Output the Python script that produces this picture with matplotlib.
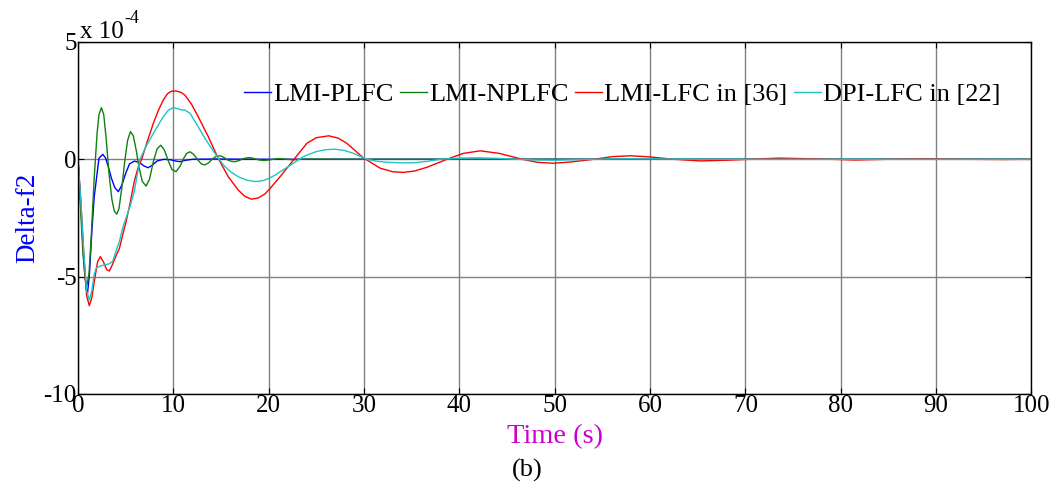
import matplotlib
matplotlib.use("Agg")
import matplotlib.pyplot as plt

plt.rcParams['font.family'] = ['Liberation Serif', 'DejaVu Serif']
plt.rcParams['axes.unicode_minus'] = False

# values in units of 1e-4
t_plfc = [0, 0.3, 0.6, 0.85, 1.0, 1.2, 1.45, 1.7, 1.9, 2.2, 2.6, 2.9, 3.2, 3.5, 3.85,
          4.23, 4.6, 5.0, 5.4, 5.9, 6.4, 6.9, 7.35, 7.8, 8.3, 9.0, 9.7, 10.3, 10.7,
          11.2, 12.0, 14.0, 20.0, 100.0]
v_plfc = [0, -2.0, -4.3, -5.5, -5.7, -4.9, -3.1, -1.6, -0.95, 0.05, 0.21, 0.05, -0.35,
          -0.8, -1.2, -1.38, -1.1, -0.6, -0.2, -0.08, -0.12, -0.28, -0.36, -0.25, -0.07,
          0.0, -0.02, -0.08, -0.1, -0.05, 0.0, 0.01, 0.0, 0.0]

t_nplfc = [0, 0.5, 0.75, 0.94, 1.15, 1.4, 1.7, 2.0, 2.2, 2.45, 2.7, 2.95, 3.25, 3.55,
           3.8, 4.06, 4.3, 4.6, 4.9, 5.2, 5.5, 5.8, 6.1, 6.4, 6.75, 7.14, 7.5, 7.9,
           8.3, 8.68, 9.05, 9.45, 9.85, 10.28, 10.7, 11.1, 11.4, 11.75, 12.15, 12.55,
           12.95, 13.3, 13.7, 14.1, 14.5, 14.9, 15.3, 15.7, 16.1, 16.5, 16.9, 17.3,
           17.7, 18.05, 18.5, 19.0, 19.5, 20.0, 21.0, 22.5, 24.0, 30.0, 100.0]
v_nplfc = [0, -3.9, -5.1, -5.36, -4.9, -3.2, -0.8, 1.1, 1.9, 2.2, 1.9, 0.9, -0.6, -1.7,
           -2.2, -2.34, -2.1, -1.2, -0.1, 0.8, 1.18, 1.0, 0.4, -0.35, -0.95, -1.14,
           -0.85, -0.1, 0.45, 0.6, 0.4, -0.05, -0.43, -0.53, -0.3, 0.05, 0.25, 0.32,
           0.2, -0.02, -0.2, -0.24, -0.15, 0.02, 0.12, 0.15, 0.08, -0.03, -0.09, -0.1,
           -0.05, 0.02, 0.06, 0.07, 0.03, -0.03, -0.05, -0.03, 0.03, -0.02, 0.01, 0.0, 0.0]

t_lfc36 = [0, 0.3, 0.6, 0.9, 1.19, 1.45, 1.71, 2.06, 2.34, 2.7, 3.0, 3.29, 3.6, 4.0,
           4.34, 4.7, 5.04, 5.46, 5.9, 6.3, 6.68, 7.3, 7.9, 8.45, 8.95, 9.4, 9.8,
           10.3, 10.8, 11.2, 11.9, 12.6, 13.67, 14.7, 15.76, 16.8, 17.5, 18.2, 18.9,
           19.6, 20.15, 21.2, 22.6, 24.0, 25.0, 26.3, 27.3, 28.2, 29.9, 31.7, 33.0,
           34.1, 35.3, 36.6, 38.7, 40.4, 42.2, 44.2, 46.6, 48.2, 49.9, 51.8, 54.1,
           56.0, 57.9, 60.0, 62.5, 65.3, 68.0, 70.5, 73.5, 77.0, 79.0, 81.5, 85.0,
           89.0, 93.0, 97.0, 100.0]
v_lfc36 = [0, -1.8, -4.0, -5.8, -6.24, -5.9, -5.2, -4.36, -4.15, -4.4, -4.7, -4.76,
           -4.5, -4.1, -3.8, -3.2, -2.66, -1.88, -0.95, -0.35, 0.0, 0.8, 1.53, 2.1,
           2.53, 2.8, 2.9, 2.91, 2.85, 2.74, 2.35, 1.82, 0.96, 0.04, -0.74, -1.31,
           -1.58, -1.70, -1.65, -1.48, -1.24, -0.74, -0.03, 0.68, 0.92, 1.0, 0.9, 0.68,
           0.07, -0.38, -0.53, -0.56, -0.5, -0.34, 0.0, 0.25, 0.36, 0.25, 0.0, -0.13,
           -0.17, -0.11, 0.0, 0.11, 0.15, 0.1, 0.0, -0.07, -0.04, 0.0, 0.05, 0.02, 0.0,
           -0.03, 0.0, 0.02, 0.0, -0.01, 0.0]

t_dpi22 = [0, 0.3, 0.6, 0.9, 1.19, 1.45, 1.7, 1.9, 2.3, 2.8, 3.3, 3.64, 4.0, 4.34,
           4.68, 5.04, 5.46, 5.9, 6.5, 7.2, 7.9, 8.95, 9.5, 10.0, 10.5, 10.9, 11.2,
           11.75, 12.6, 13.3, 14.0, 14.7, 15.4, 16.1, 16.8, 17.7, 18.6, 19.3, 20.0,
           20.7, 21.2, 22.6, 23.6, 25.0, 26.0, 27.0, 28.0, 28.9, 30.3, 31.3, 32.4,
           33.8, 35.2, 36.6, 38.0, 40.0, 42.0, 44.0, 46.0, 48.0, 50.0, 53.0, 56.0,
           60.0, 65.0, 100.0]
v_dpi22 = [0, -1.8, -3.9, -5.6, -6.0, -5.6, -4.9, -4.64, -4.55, -4.5, -4.45, -4.35,
           -3.9, -3.5, -2.94, -2.5, -2.0, -1.38, 0.0, 0.6, 1.1, 1.82, 2.1, 2.2, 2.15,
           2.1, 2.1, 1.96, 1.39, 0.9, 0.47, 0.05, -0.31, -0.56, -0.74, -0.89, -0.95,
           -0.92, -0.82, -0.67, -0.53, -0.17, 0.11, 0.33, 0.41, 0.43, 0.37, 0.25, 0.0,
           -0.08, -0.13, -0.15, -0.15, -0.09, 0.0, 0.05, 0.06, 0.04, 0.0, -0.03, -0.04,
           -0.01, 0.02, 0.02, 0.0, 0.0]

labels = ['LMI-PLFC', 'LMI-NPLFC', 'LMI-LFC in [36]', 'DPI-LFC in [22]']
colors = ['#0000ff', '#108010', '#ff0000', '#20c4c4']

fig = plt.figure(figsize=(10.54, 4.91), dpi=100)
ax = fig.add_axes([0.074, 0.1976, 0.9046, 0.717])

series = [(t_plfc, v_plfc), (t_nplfc, v_nplfc), (t_lfc36, v_lfc36), (t_dpi22, v_dpi22)]
for (t, v), lab, col in zip(series, labels, colors):
    ax.plot(t, v, color=col, lw=1.0, label=lab)

ax.set_xlim(0, 100)
ax.set_ylim(-10, 5)
ax.set_xticks(range(0, 101, 10))
ax.set_yticks([-10, -5, 0, 5])
ax.grid(True, color='#808080', lw=1.0)
ax.tick_params(direction='in', labelsize=18, length=4, top=True, right=True,
               pad=1)
for s in ax.spines.values():
    s.set_linewidth(1.0)

ax.set_xlabel('Time (s)', fontsize=20.5, color='#cc00cc', labelpad=5)
ax.set_ylabel('Delta-f2', fontsize=19.5, color='#0000ff', labelpad=2)

fig.text(80 / 1054, 1 - 38 / 491, 'x 10', fontsize=18, ha='left', va='baseline')
fig.text(124 / 1054, 1 - 23 / 491, '-4', fontsize=13, ha='left', va='baseline')
fig.text(527 / 1054, 1 - 477 / 491, '(b)', fontsize=19, ha='center', va='baseline')

ax.legend(loc='upper right', bbox_to_anchor=(0.979, 0.915), ncol=4, frameon=False,
          fontsize=19, handlelength=1.0, handletextpad=0.1, columnspacing=0.25,
          borderaxespad=0)

fig.savefig('out.png', dpi=100)
